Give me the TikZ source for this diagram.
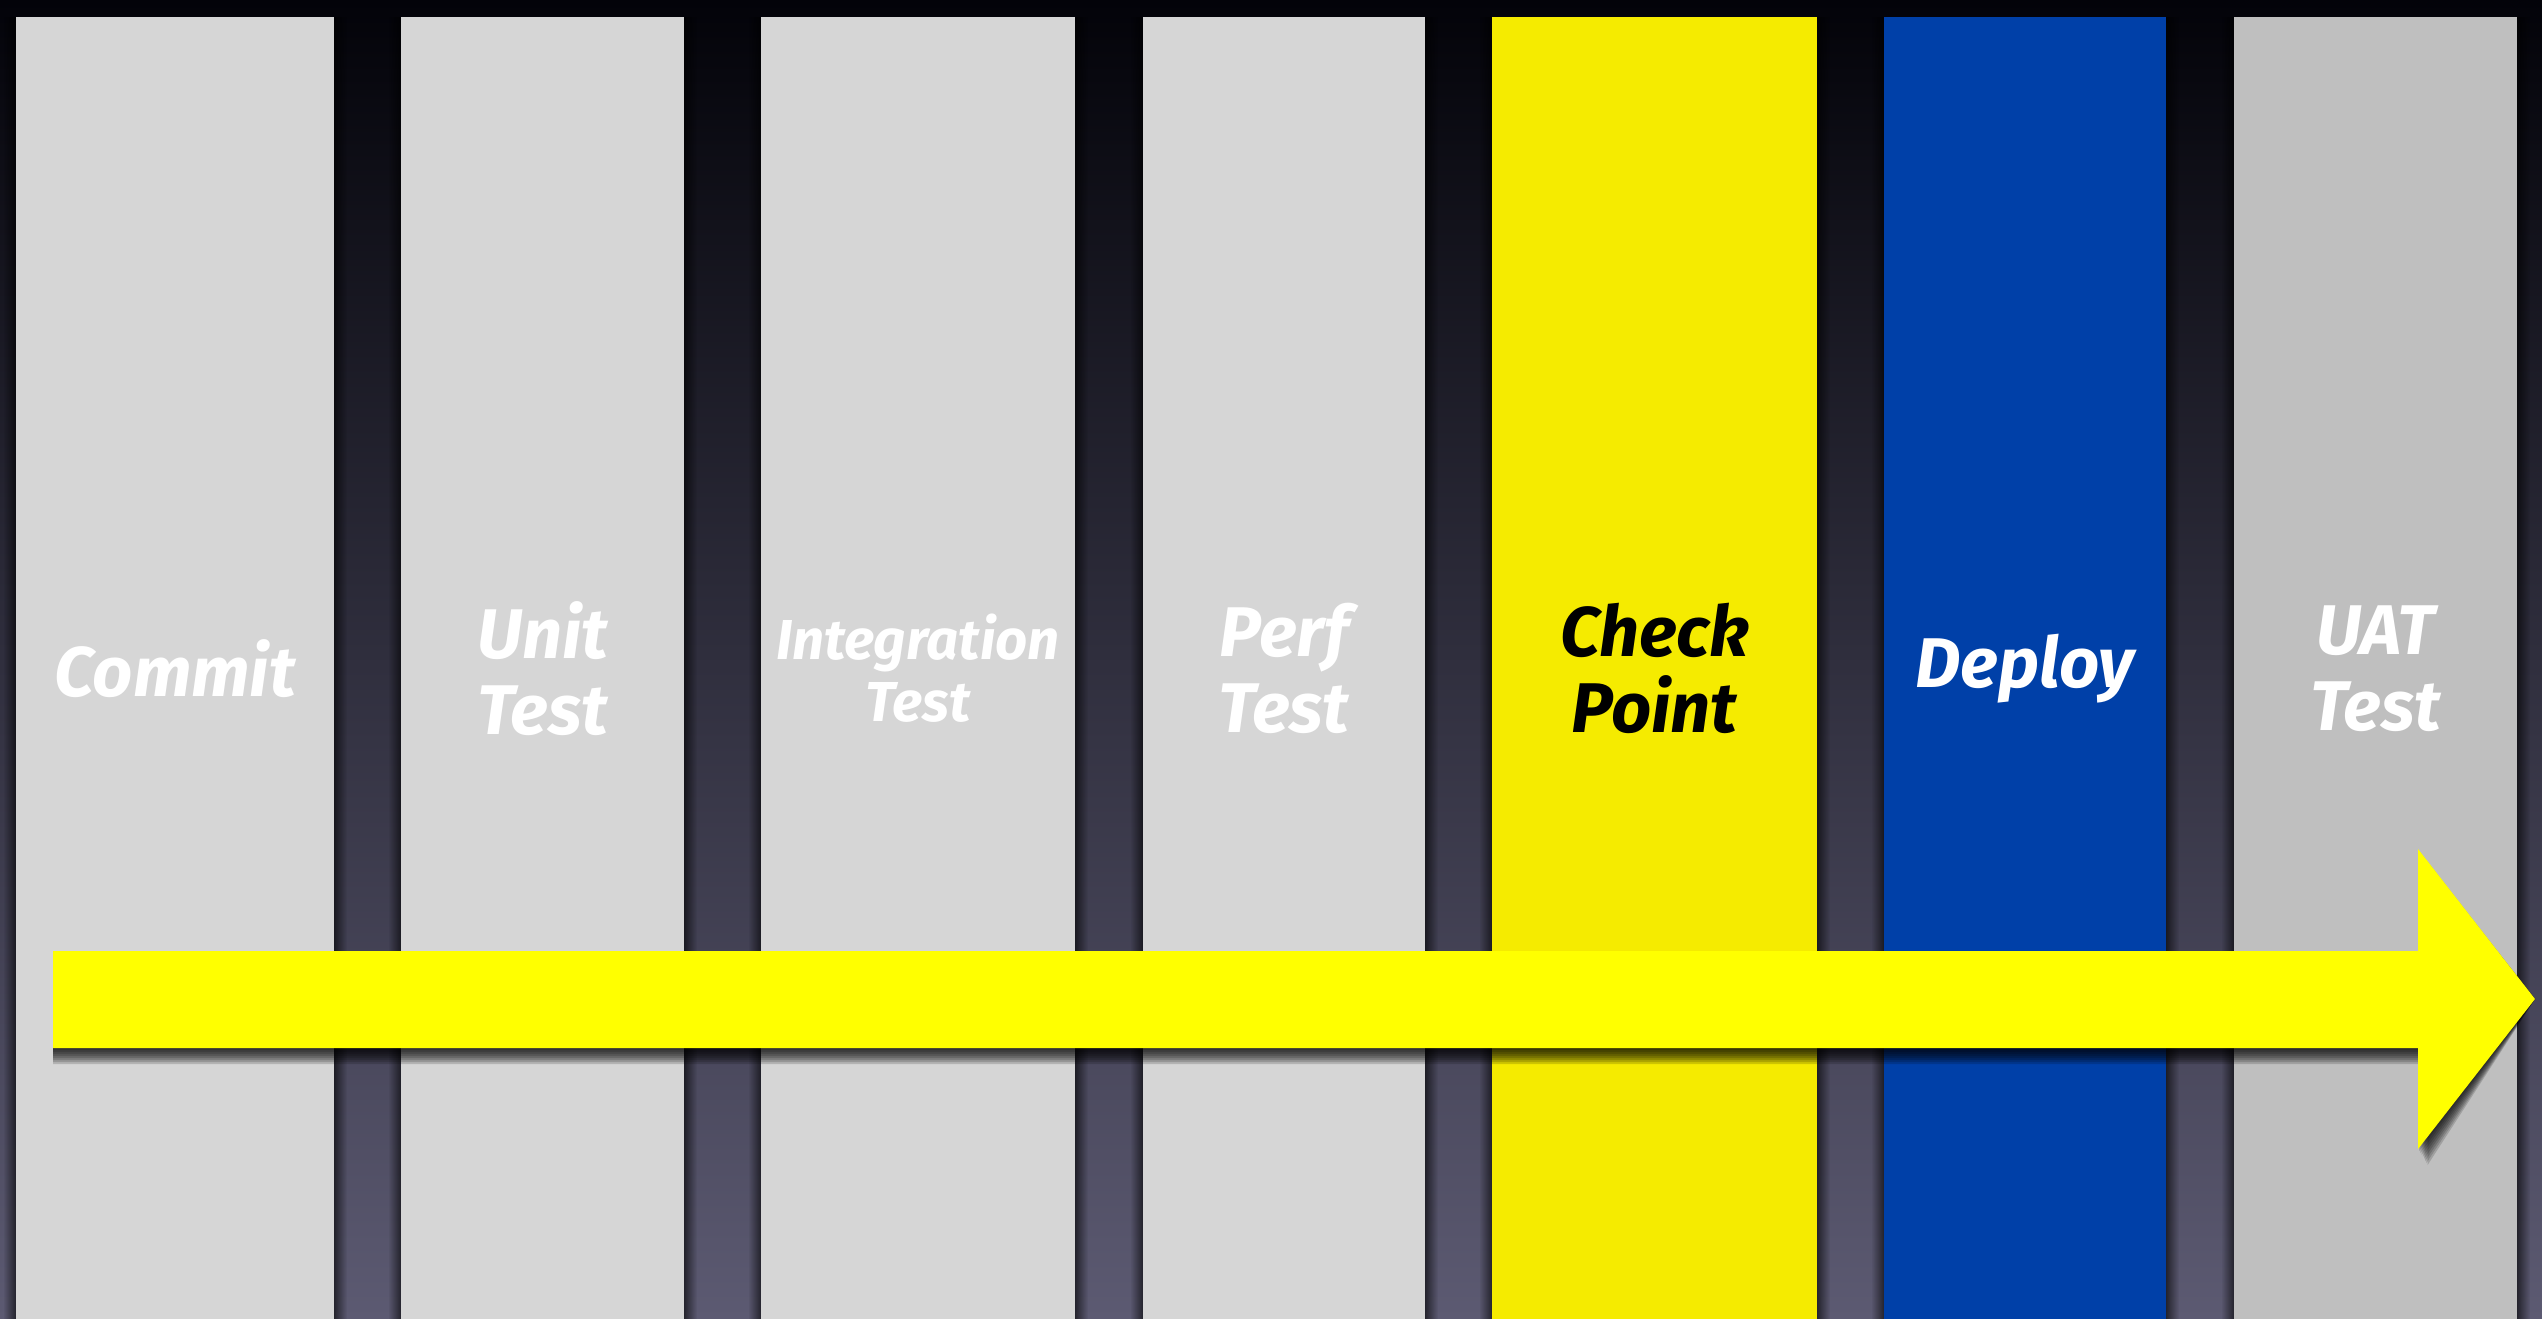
\documentclass[tikz,border=0pt]{standalone}
\usepackage{fontspec}
\setsansfont{Fira Sans}
\usetikzlibrary{fadings}

\definecolor{fondoarriba}{HTML}{030309}
\definecolor{fondomedio}{HTML}{1C1C2E}
\definecolor{fondoabajo}{HTML}{5C5A72}
\definecolor{grisclaro}{HTML}{D6D6D6}
\definecolor{grisuat}{HTML}{BFBFBF}
\definecolor{amarillo}{HTML}{F5EB00}
\definecolor{azul}{HTML}{0040A8}
\definecolor{flecha}{HTML}{FFFF00}

\tikzfading[name=sombraderecha, left color=transparent!0, right color=transparent!100]
\tikzfading[name=sombraizquierda, left color=transparent!100, right color=transparent!0]

\begin{document}
\begin{tikzpicture}[x=0.01cm, y=-0.01cm,
    columna/.style={inner sep=0pt, outer sep=0pt, anchor=north west},
    etiqueta/.style={font=\sffamily\bfseries\itshape\fontsize{20}{21.6}\selectfont,
        align=center, inner sep=0pt}]

    % #1 = nombre, #2 = x izquierda, #3 = ancho, #4 = relleno, #5 = color del texto, #6 = texto, #7 = extra
    \newcommand{\fase}[7]{%
        \fill[black, opacity=.6, path fading=sombraderecha] (#2+#3,17) rectangle ++(13,1302);
        \fill[black, opacity=.6, path fading=sombraizquierda] (#2-13,17) rectangle (#2,1319);
        \node[columna, fill=#4, minimum width=#3*0.01cm, minimum height=13.02cm] (#1) at (#2,17) {};
        \node[etiqueta, text=#5, #7] (#1-texto) at (#1.center) {#6};}

    \useasboundingbox (0,0) rectangle (2542,1319);
    \shade[top color=fondoarriba, middle color=fondomedio, bottom color=fondoabajo]
        (0,0) rectangle (2542,1319);

    \fase{commit}{16}{318}{grisclaro}{white}{Commit}{}
    \fase{unit}{401}{283}{grisclaro}{white}{Unit\\Test}{}
    \fase{integracion}{761}{314}{grisclaro}{white}{Integration\\Test}{font=\sffamily\bfseries\itshape\fontsize{16}{17.6}\selectfont}
    \fase{perf}{1143}{282}{grisclaro}{white}{Perf\\Test}{}
    \fase{checkpoint}{1492}{325}{amarillo}{black}{Check\\Point}{}
    \fase{deploy}{1884}{282}{azul}{white}{Deploy}{}
    \fase{uat}{2234}{283}{grisuat}{white}{UAT\\Test}{}

    % flecha
    \coordinate (inicio) at (53,999);
    \coordinate (punta) at (2535,999);
    \foreach \d in {2,4,...,16}
        \fill[black, opacity=.16, shift={(\d*0.6,\d)}]
            (inicio |- 0,951) -- (2418,951) -- (2418,849) -- (punta)
            -- (2418,1149) -- (2418,1048) -- (inicio |- 0,1048) -- cycle;
    \fill[flecha]
        (inicio |- 0,951) -- (2418,951) -- (2418,849) -- (punta)
        -- (2418,1149) -- (2418,1048) -- (inicio |- 0,1048) -- cycle;

\end{tikzpicture}
\end{document}
